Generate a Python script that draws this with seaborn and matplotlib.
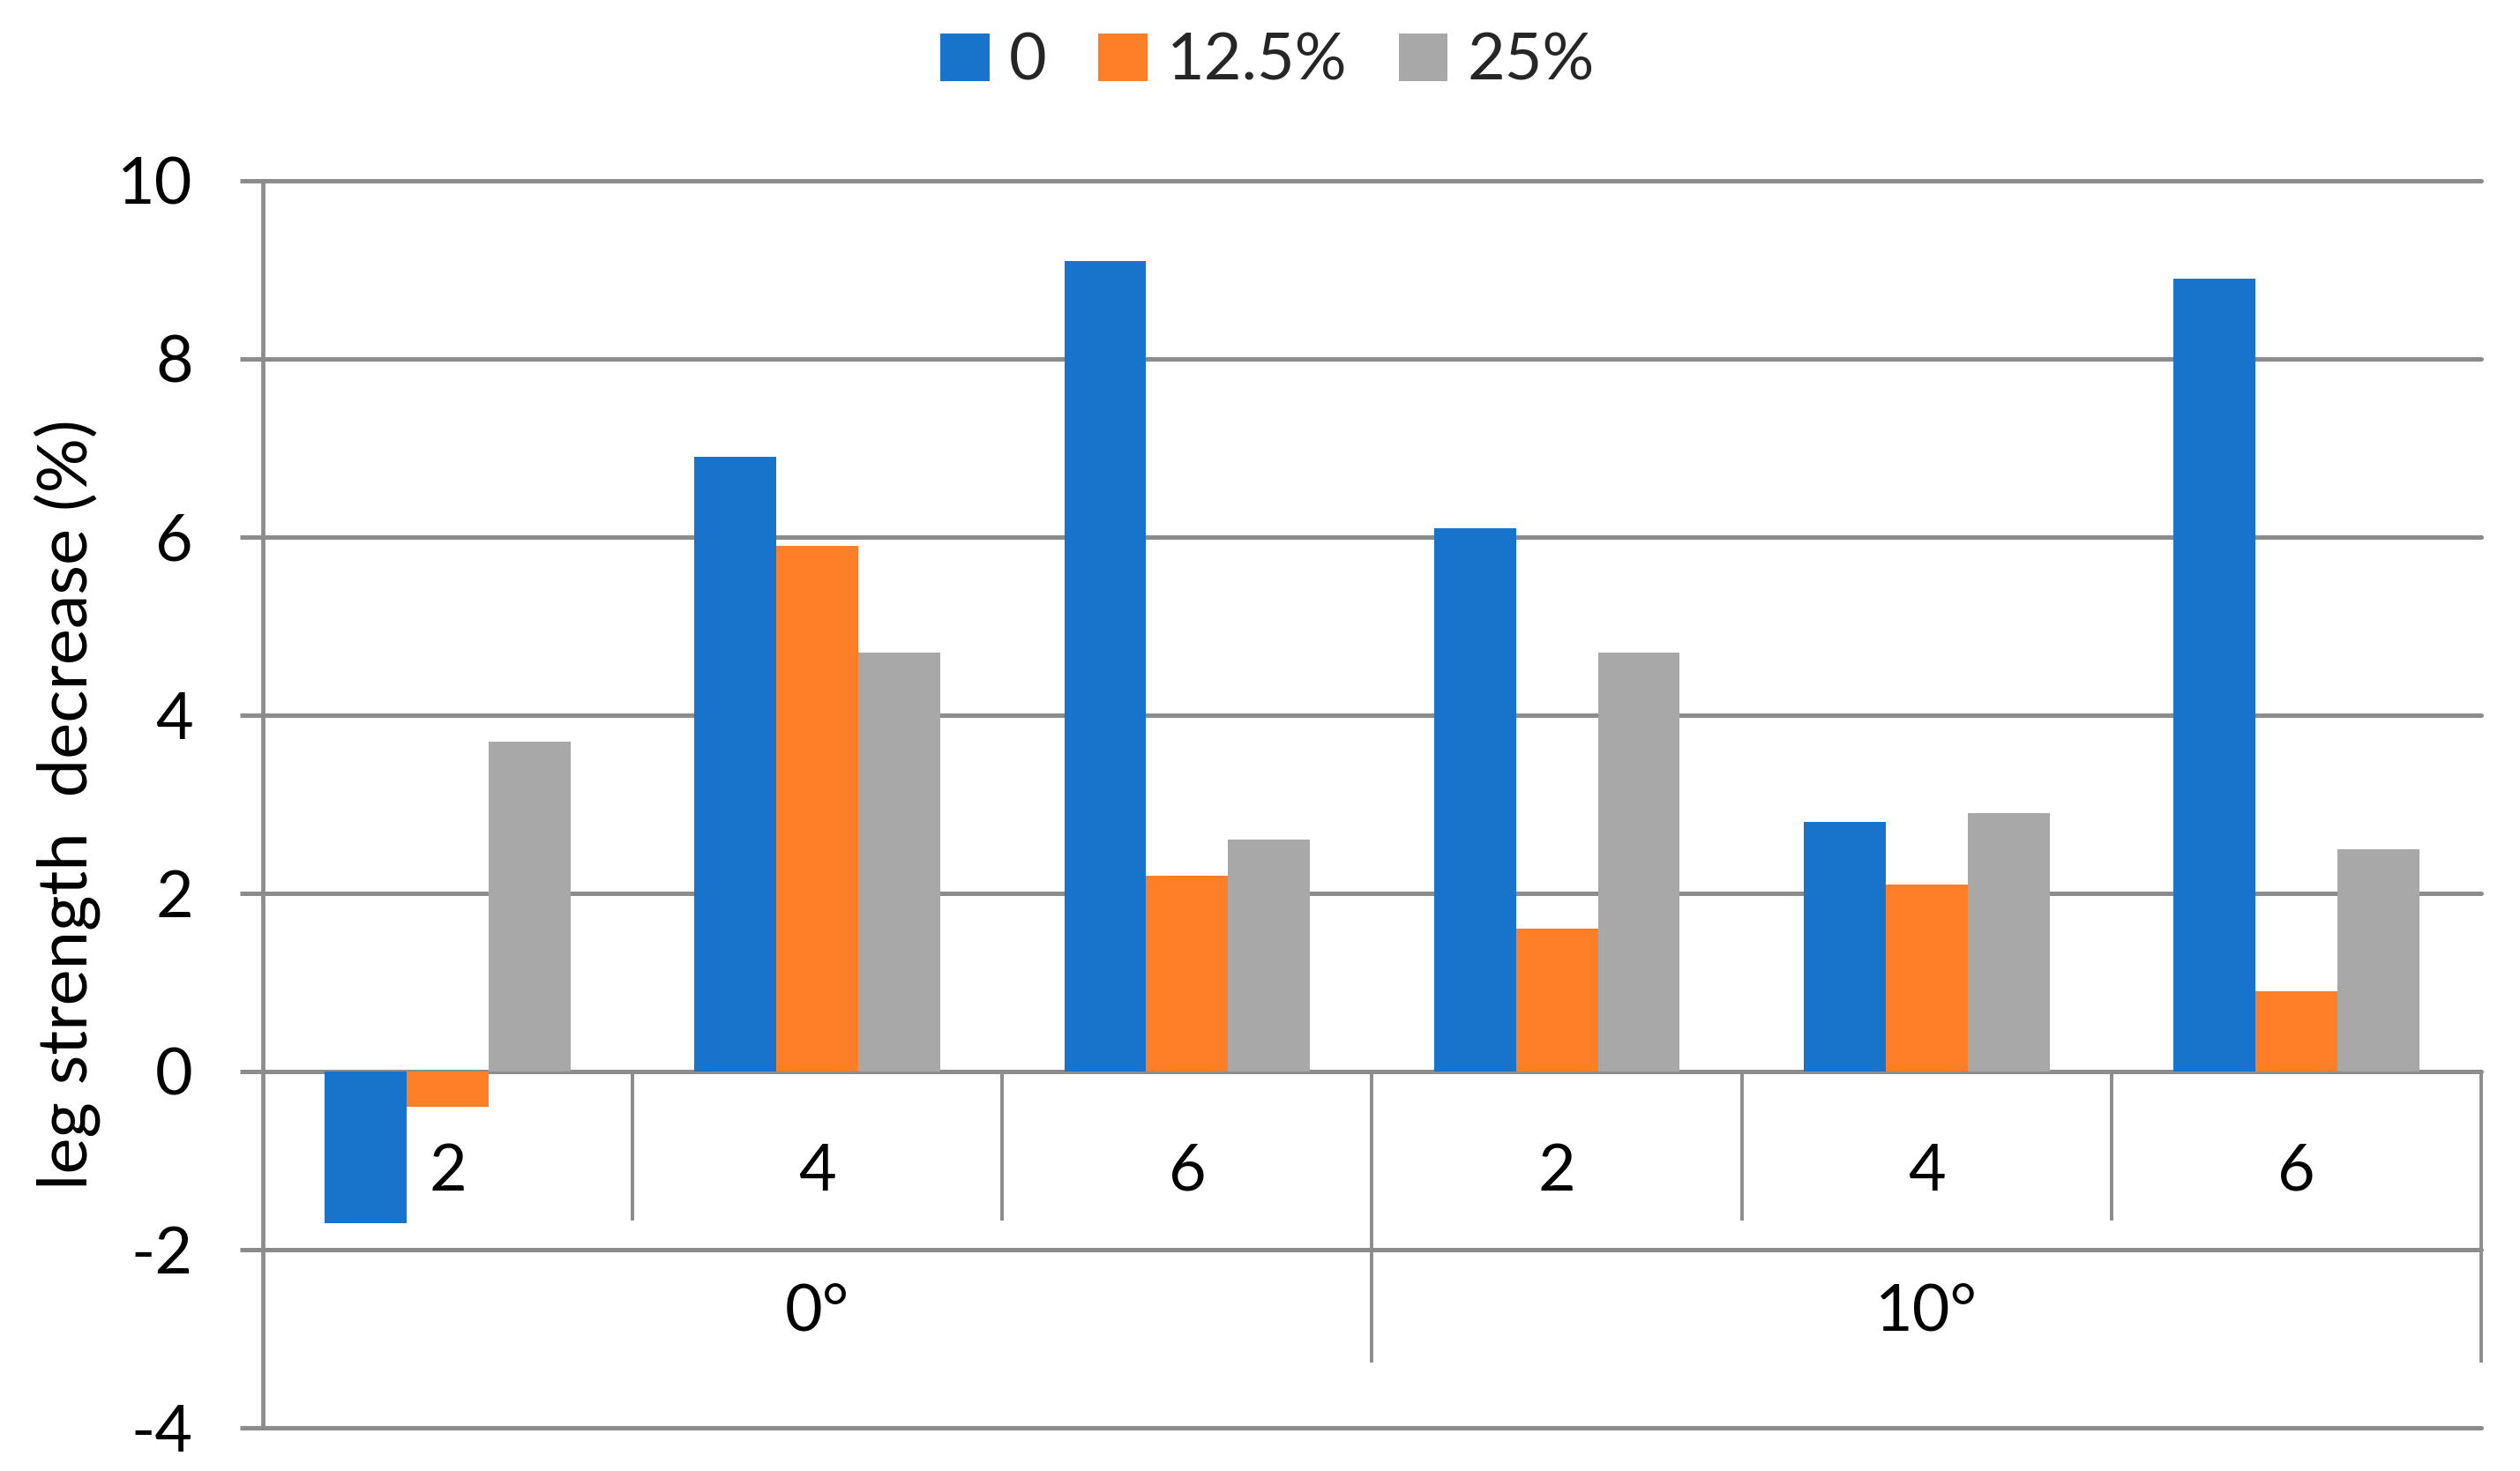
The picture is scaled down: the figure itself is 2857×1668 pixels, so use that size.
import matplotlib
matplotlib.use("Agg")
import matplotlib.pyplot as plt
import seaborn as sns
import pandas as pd

# ---- data ----
angles = ["0°", "10°"]
positions = ["2", "4", "6"]
series = ["0", "12.5%", "25%"]
vals_0 = [-1.7, 6.9, 9.1, 6.1, 2.8, 8.9]
vals_125 = [-0.4, 5.9, 2.2, 1.6, 2.1, 0.9]
vals_25 = [3.7, 4.7, 2.6, 4.7, 2.9, 2.5]
y_ticks = [-4, -2, 0, 2, 4, 6, 8, 10]
y_label = "leg strength  decrease (%)"

colors = ["#1874CA", "#FE7F28", "#A8A8A8"]
grid_c = "#8C8C8C"

cats = [f"{a}|{p}" for a in angles for p in positions]
rows = []
for s, vals in zip(series, [vals_0, vals_125, vals_25]):
    for c, v in zip(cats, vals):
        rows.append({"cat": c, "series": s, "value": v})
df = pd.DataFrame(rows)

sns.set_theme(style="white")
FONT = ["Liberation Sans Narrow", "Lato", "DejaVu Sans"]
plt.rcParams["font.family"] = FONT

fig = plt.figure(figsize=(28.57, 16.68), dpi=100)
ax = fig.add_axes([298 / 2857, 1 - 1619 / 1668, (2813 - 298) / 2857, (1619 - 205) / 1668])

sns.barplot(data=df, x="cat", y="value", hue="series", order=cats,
            hue_order=series, palette=colors, width=0.665, saturation=1,
            edgecolor="none", linewidth=0, ax=ax, legend=True)

ax.set_xlim(-0.5, 5.5)
ax.set_ylim(-4, 10)
ax.set_yticks(y_ticks)
ax.set_yticklabels([str(t) for t in y_ticks], fontsize=53, color="black")
ax.set_xticks([])
ax.set_xlabel("")

ax.yaxis.grid(True, color=grid_c, linewidth=3.6)
for gl in ax.get_ygridlines():
    gl.set_clip_on(False)
ax.set_axisbelow(True)
ax.tick_params(axis="y", length=19, width=3.6, color=grid_c, pad=38, left=True)

for sp in ["top", "right", "bottom"]:
    ax.spines[sp].set_visible(False)
ax.spines["left"].set_color(grid_c)
ax.spines["left"].set_linewidth(3.4)

# category separators
ax.vlines([0.5, 1.5, 3.5, 4.5], -1.67, 0, color=grid_c, linewidth=2.8, clip_on=False, zorder=1)
ax.vlines([2.5, 5.5], -3.27, 0, color=grid_c, linewidth=2.8, clip_on=False, zorder=1)

# category labels
for i, c in enumerate(cats):
    ax.text(i, -1.13, c.split("|")[1], ha="center", va="center", fontsize=53, color="black")
for j, a in enumerate(angles):
    ax.text(3 * j + 1, -2.70, a, ha="center", va="center", fontsize=53, color="black")

ax.set_ylabel(y_label, fontsize=56, family=["Lato", "DejaVu Sans"], color="black")
ax.yaxis.set_label_coords(-0.073, 0.5)

handles, labels = ax.get_legend_handles_labels()
ax.get_legend().remove()
fig.legend(handles, labels, loc="center", bbox_to_anchor=(0.503, 0.958), ncol=3,
           frameon=False, fontsize=53, handlelength=0.75, handleheight=0.75,
           handletextpad=0.3, columnspacing=0.8)

fig.savefig("out.png", dpi=100, facecolor="white")
